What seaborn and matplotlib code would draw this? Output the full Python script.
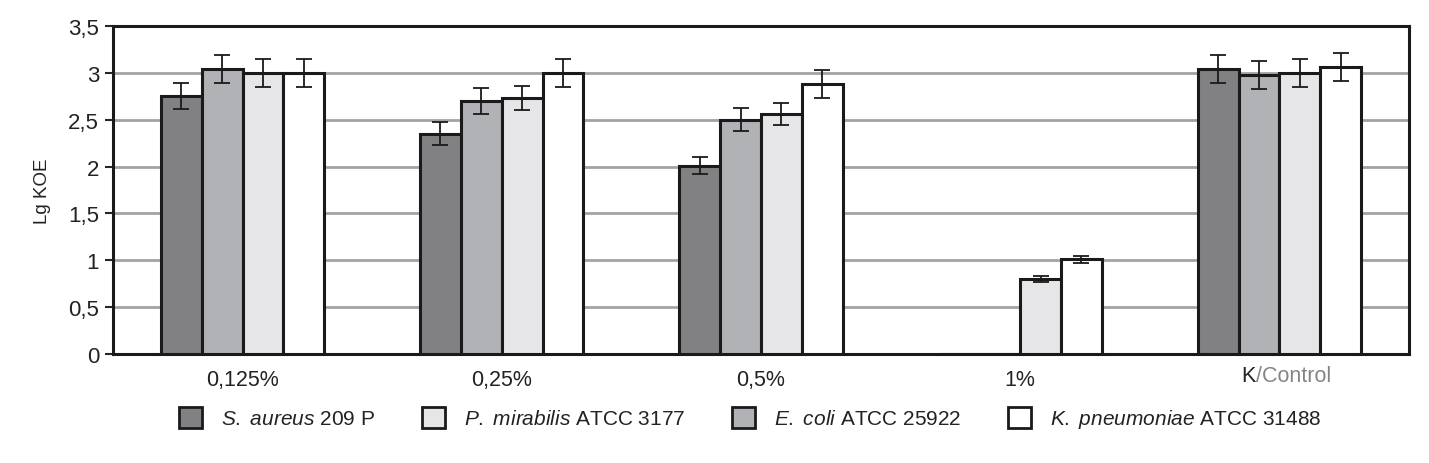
import seaborn as sns
import matplotlib.pyplot as plt
import pandas as pd
from matplotlib.ticker import FuncFormatter
from matplotlib.patches import Patch

# concentrations on the x axis
groups = ["0,125%", "0,25%", "0,5%", "1%", "K/Control"]

# strains in bar order (dark -> white)
strains = ["S. aureus", "E. coli", "P. mirabilis", "K. pneumoniae"]
strain_labels = {
    "S. aureus": r"$\it{S.\ aureus}$ 209 P",
    "P. mirabilis": r"$\it{P.\ mirabilis}$ ATCC 3177",
    "E. coli": r"$\it{E.\ coli}$ ATCC 25922",
    "K. pneumoniae": r"$\it{K.\ pneumoniae}$ ATCC 31488",
}
legend_order = ["S. aureus", "P. mirabilis", "E. coli", "K. pneumoniae"]

# lg KOE means per strain, one value per group
s_aureus = [2.75, 2.35, 2.01, 0.0, 3.04]
e_coli = [3.04, 2.70, 2.50, 0.0, 2.98]
p_mirabilis = [3.00, 2.73, 2.56, 0.80, 3.00]
k_pneumoniae = [3.00, 3.00, 2.88, 1.01, 3.06]

# error bar half-widths
s_aureus_err = [0.14, 0.12, 0.09, 0.0, 0.15]
e_coli_err = [0.15, 0.14, 0.12, 0.0, 0.15]
p_mirabilis_err = [0.15, 0.13, 0.12, 0.03, 0.15]
k_pneumoniae_err = [0.15, 0.15, 0.15, 0.04, 0.15]

colors = {"S. aureus": "#808184", "E. coli": "#b1b2b5",
          "P. mirabilis": "#e6e6e8", "K. pneumoniae": "#ffffff"}

vals = {"S. aureus": s_aureus, "E. coli": e_coli,
        "P. mirabilis": p_mirabilis, "K. pneumoniae": k_pneumoniae}
errs = {"S. aureus": s_aureus_err, "E. coli": e_coli_err,
        "P. mirabilis": p_mirabilis_err, "K. pneumoniae": k_pneumoniae_err}

rows = []
for s in strains:
    for g, v, e in zip(groups, vals[s], errs[s]):
        rows.append({"group": g, "strain": s, "value": v, "err": e})
df = pd.DataFrame(rows)

sns.set_style("white")
plt.rcParams["font.family"] = ["Liberation Sans", "DejaVu Sans"]
plt.rcParams["mathtext.fontset"] = "custom"
plt.rcParams["mathtext.it"] = "Liberation Sans:italic"
plt.rcParams["mathtext.rm"] = "Liberation Sans"

fig = plt.figure(figsize=(14.29, 4.64), dpi=100)
ax = fig.add_axes([0.079, 0.235, 0.907, 0.707])

sns.barplot(data=df, x="group", y="value", hue="strain", order=groups,
            hue_order=strains, palette=colors, width=0.63, gap=0,
            edgecolor="#1a1a1a", linewidth=2.2, errorbar=None, legend=False,
            ax=ax, zorder=3)

# error bars placed on the drawn bars
for s, cont in zip(strains, ax.containers):
    for bar, e in zip(cont.patches, errs[s]):
        if e <= 0:
            continue
        xc = bar.get_x() + bar.get_width() / 2
        ax.errorbar(xc, bar.get_height(), yerr=e, fmt="none", ecolor="#1a1a1a",
                    elinewidth=1.3, capsize=6, capthick=1.3, zorder=4)

ax.set_xlim(-0.5, len(groups) - 0.5)
ax.set_ylim(0, 3.5)
ax.set_yticks([0, 0.5, 1, 1.5, 2, 2.5, 3, 3.5])
ax.yaxis.set_major_formatter(FuncFormatter(lambda v, p: ("%g" % v).replace(".", ",")))
ax.yaxis.grid(True, color="#a3a3a3", linewidth=2, zorder=0)
ax.set_axisbelow(True)
for sp in ax.spines.values():
    sp.set_visible(True)
    sp.set_color("#1a1a1a")
    sp.set_linewidth(2.2)
ax.tick_params(axis="y", left=True, length=6, width=1.5, labelsize=16, pad=4,
               labelcolor="#222222")
ax.tick_params(axis="x", bottom=False, labelsize=15.5, pad=7, labelcolor="#222222")
ax.set_xlabel("")
ax.set_ylabel("Lg KOE", fontsize=13.5, labelpad=12, color="#222222")
ax.set_xticks(range(len(groups)))
ax.set_xticklabels(["0,125%", "0,25%", "0,5%", "1%", ""])
ax.annotate("K", xy=(4, 0), xycoords=("data", "axes fraction"), xytext=(-17, -8),
            textcoords="offset points", ha="right", va="top", fontsize=15.5, color="#222222")
ax.annotate("/Control", xy=(4, 0), xycoords=("data", "axes fraction"), xytext=(-17, -8),
            textcoords="offset points", ha="left", va="top", fontsize=15.5, color="#858585")

handles = [Patch(facecolor=colors[s], edgecolor="#1a1a1a", linewidth=2) for s in legend_order]
fig.legend(handles, [strain_labels[s] for s in legend_order], loc="lower center",
           bbox_to_anchor=(0.525, 0.03), ncol=4, frameon=False, fontsize=15,
           handlelength=1.1, handleheight=1.2, columnspacing=2.25, handletextpad=0.9,
           labelcolor="#222222")

plt.savefig("out.png", dpi=100)
